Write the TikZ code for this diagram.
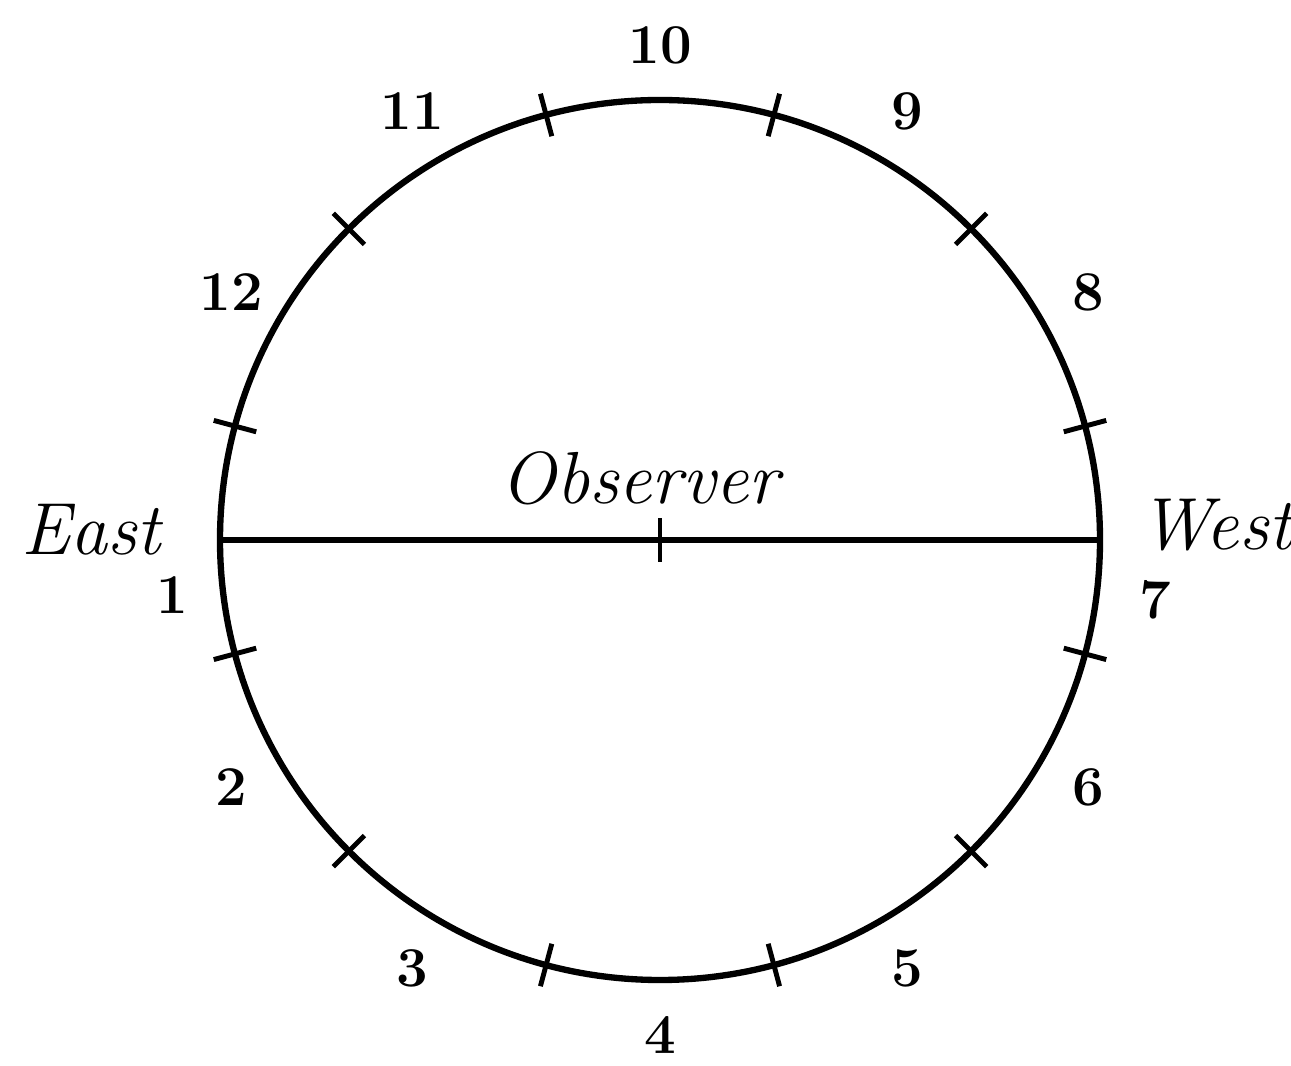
\documentclass[tikz,border=0pt]{standalone}
\usetikzlibrary{positioning}
\begin{document}
\begin{tikzpicture}[
    % ring, horizon line and the short cross strokes
    ring/.style={line width=1.8pt},
    hourtick/.style={line width=1.4pt},
    % numerals round the ring, italic words inside and beside it
    hourlabel/.style={font=\fontsize{16}{18}\selectfont\bfseries, inner sep=1pt},
    sidelabel/.style={font=\fontsize{21}{24}\selectfont\itshape, inner sep=1pt}
]
\useasboundingbox (-6.6,-5.26) rectangle (6.31,5.40);

% Circle of the sky
\draw[ring] (0,0) circle (4.4);

% Tick marks half way between the hours
\foreach \a in {15,45,...,345} \draw[hourtick] (\a:4.18) -- (\a:4.62);

% Horizon line from East to West with the observer at its middle
\coordinate (east) at (180:4.4);
\coordinate (west) at (0:4.4);
\coordinate (obs) at (0,0);
\draw[ring] (east) -- (west);
\draw[hourtick] ([yshift=-0.22cm]obs) -- ([yshift=0.22cm]obs);

\node[sidelabel] (obslabel) at (-0.2,0.62) {Observer};
\node[sidelabel, anchor=east] (eastlabel) at (-4.95,0.1) {East};
\node[sidelabel, anchor=west] (westlabel) at (4.75,0.15) {West};

% Hour numbers
\foreach \n/\a in {2/210, 3/240, 4/270, 5/300, 6/330, 8/30, 9/60, 10/90, 11/120, 12/150}
  \node[hourlabel] (h\n) at (\a:4.95) {\n};
\node[hourlabel] (h1) at (-4.88,-0.55) {1};
\node[hourlabel] (h7) at (4.95,-0.6) {7};

\end{tikzpicture}
\end{document}
